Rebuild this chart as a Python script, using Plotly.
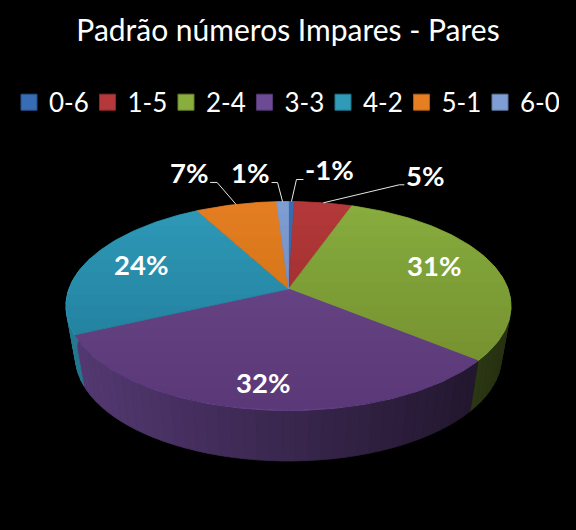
import math
import plotly.graph_objects as go

# ---- data ----
categories = ["0-6", "1-5", "2-4", "3-3", "4-2", "5-1", "6-0"]
values = [0.5, 4.9, 30.5, 32.2, 24.0, 6.9, 1.0]
value_labels = ["-1%", "5%", "31%", "32%", "24%", "7%", "1%"]
title_text = "Padrão números Impares - Pares"

# ---- style ----
colors = ["#376db5", "#b5393a", "#8aae3e", "#6d4a94", "#2f9bb9", "#e67e22", "#7f9fd4"]
W, H = 576, 530
TOP = dict(cx=288.5, cy=306.0, rx=222.5, ry=104.5)
BOT = dict(cx=288.5, cy=357.0, rx=213.0, ry=104.0)
K = 0.163  # perspective shift of the pie centre

# label offset from the rim point of the slice, leader-line elbow offsets
label_style = [
    dict(dx=38, dy=-32, line=[(5, -22), (12, -22)]),
    dict(dx=102, dy=-27, line=[(76, -18), (81, -18)]),
    dict(dx=-57, dy=3, line=None),
    dict(dx=7, dy=-27, line=None),
    dict(dx=51, dy=6, line=None),
    dict(dx=-47, dy=-32, line=[(-19, -22), (-26, -22)]),
    dict(dx=-32, dy=-29, line=[(-5, -19), (-11, -19)]),
]


def project(theta, r, e):
    """Slice angle (clockwise from top) and radius to a pixel on ellipse e."""
    u, v = r * math.sin(theta), r * math.cos(theta)
    d = 1 + K * v
    xp = u * math.sqrt(1 - K * K) / d
    yp = (v + K) / d
    return e["cx"] + e["rx"] * xp, e["cy"] - e["ry"] * yp


total = sum(values)
bounds = [0.0]
for val in values:
    bounds.append(bounds[-1] + val / total * 2 * math.pi)

fig = go.Figure()


def rgb_scale(hex_color, f):
    r, g, b = int(hex_color[1:3], 16), int(hex_color[3:5], 16), int(hex_color[5:7], 16)
    return f"rgb({int(r*f)},{int(g*f)},{int(b*f)})"


def poly(xs, ys, color, lw=0.8):
    fig.add_trace(go.Scatter(x=xs, y=ys, mode="lines", fill="toself", fillcolor=color,
                             line=dict(color=color, width=lw), hoverinfo="skip", showlegend=False))


# walls
for i, col in enumerate(colors):
    a0, a1 = bounds[i], bounds[i + 1]
    n = max(2, int((a1 - a0) / 0.05))
    for j in range(n):
        t0 = a0 + (a1 - a0) * j / n
        t1 = a0 + (a1 - a0) * (j + 1) / n
        if math.cos((t0 + t1) / 2) > 0.3:
            continue
        x0, y0 = project(t0, 1, TOP)
        x1, y1 = project(t1, 1, TOP)
        x2, y2 = project(t1, 1, BOT)
        x3, y3 = project(t0, 1, BOT)
        f = 0.78 - 0.5 * ((x0 + x1) / 2 - 66) / 445
        poly([x0, x1, x2, x3, x0], [y0, y1, y2, y3, y0], rgb_scale(col, f))

# top faces
for i, col in enumerate(colors):
    a0, a1 = bounds[i], bounds[i + 1]
    n = max(3, int((a1 - a0) / 0.02))
    pts = [project(a0 + (a1 - a0) * j / n, 1, TOP) for j in range(n + 1)]
    ax, ay = project(0, 0, TOP)
    xs = [ax] + [p[0] for p in pts] + [ax]
    ys = [ay] + [p[1] for p in pts] + [ay]
    poly(xs, ys, col)

# vertical shading of the top face: nested translucent layers
ytop, ybot = TOP["cy"] - TOP["ry"], TOP["cy"] + TOP["ry"]
layers = 18
for k in range(layers):
    y0 = ytop + (ybot - ytop) * k / layers
    steps = 40
    ys_r = [y0 + (ybot - y0) * s / steps for s in range(steps + 1)]
    half = [TOP["rx"] * math.sqrt(max(0, 1 - ((y - TOP["cy"]) / TOP["ry"]) ** 2)) for y in ys_r]
    xs = [TOP["cx"] + h for h in half] + [TOP["cx"] - h for h in reversed(half)]
    ys = ys_r + list(reversed(ys_r))
    xs.append(xs[0]); ys.append(ys[0])
    fig.add_trace(go.Scatter(x=xs, y=ys, mode="lines", fill="toself",
                             fillcolor="rgba(0,0,0,0.009)", line=dict(width=0),
                             hoverinfo="skip", showlegend=False))

# leader lines and labels
for i, txt in enumerate(value_labels):
    mid = (bounds[i] + bounds[i + 1]) / 2
    rx, ry = project(mid, 1, TOP)
    st = label_style[i]
    if st["line"]:
        xs = [rx] + [rx + p[0] for p in st["line"]]
        ys = [ry] + [ry + p[1] for p in st["line"]]
        fig.add_trace(go.Scatter(x=xs, y=ys, mode="lines", line=dict(color="#e8e8e8", width=1),
                                 hoverinfo="skip", showlegend=False))
    fig.add_annotation(x=rx + st["dx"], y=ry + st["dy"], text=f"<b>{txt}</b>", showarrow=False,
                       xref="x", yref="y", font=dict(family="Lato", size=27.5, color="white"))

# legend entries
for name, col in zip(categories, colors):
    fig.add_trace(go.Scatter(x=[None], y=[None], mode="markers", name=name,
                             marker=dict(symbol="square", size=17, color=col,
                                         line=dict(color=rgb_scale(col, 0.75), width=1))))

fig.update_layout(
    width=W, height=H,
    margin=dict(l=0, r=0, t=0, b=0),
    paper_bgcolor="black", plot_bgcolor="black",
    title=dict(text=title_text, x=0.5, xanchor="center", y=0.942, yanchor="middle",
               font=dict(family="Lato", size=30, color="white")),
    xaxis=dict(range=[0, W], visible=False, fixedrange=True),
    yaxis=dict(range=[H, 0], visible=False, fixedrange=True),
    legend=dict(orientation="h", x=0.0156, xanchor="left", y=0.807, yanchor="middle",
                font=dict(family="Lato", size=26, color="white"),
                entrywidth=33.5, entrywidthmode="pixels",
                bgcolor="rgba(0,0,0,0)", itemsizing="trace", itemwidth=30),
    showlegend=True,
)

fig.write_html("out.html", config=dict(displayModeBar=False),
               post_script="document.body.style.margin='0';document.body.style.background='black';")
